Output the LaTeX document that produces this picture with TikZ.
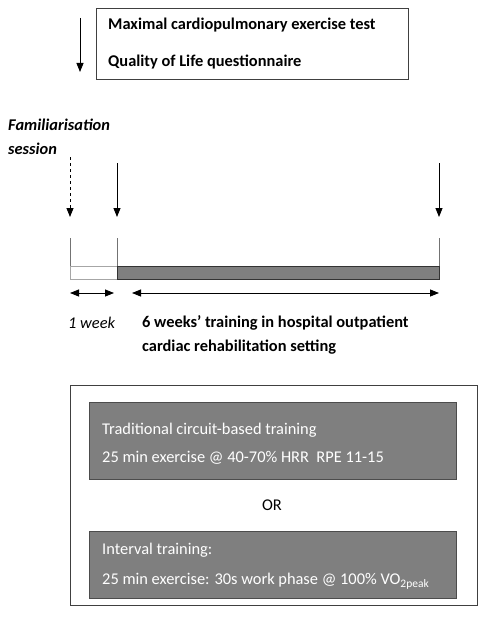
\documentclass[tikz,border=0pt]{standalone}
\usepackage{fontspec}
\setmainfont{Carlito}
\usetikzlibrary{arrows.meta,positioning}
\definecolor{barGrey}{HTML}{7F7F7F}

\begin{document}
\begin{tikzpicture}[x=1pt, y=-1pt,
    frame/.style={draw=black!75, line width=0.8pt},
    greybox/.style={draw=black!70, fill=barGrey, line width=0.8pt, anchor=north west, inner sep=0pt},
    marker/.style={-{Triangle[width=7pt,length=9pt]}, line width=0.8pt},
    span/.style={{Triangle[width=7pt,length=9pt]}-{Triangle[width=7pt,length=9pt]}, line width=0.8pt},
    tick/.style={draw=black!55, line width=0.7pt},
    label/.style={anchor=west, inner sep=0pt, font=\fontsize{16.4}{18}\selectfont}]
\useasboundingbox (0,0) rectangle (492,626);

% ASSESSMENTS
\node[frame, anchor=north west, minimum width=312, minimum height=71, inner sep=0pt] (tests) at (96,8) {};
\node[label, font=\fontsize{16.4}{18}\selectfont\bfseries] (cpet) at (108,25) {Maximal cardiopulmonary exercise test};
\node[label, font=\fontsize{16.4}{18}\selectfont\bfseries] (qol) at (108,62) {Quality of Life questionnaire};
\coordinate (testTop) at (80,18);
\coordinate (testBot) at (80,72);
\draw[marker] (testTop) -- (testBot);

% TIME POINTS
\node[label, font=\fontsize{16.4}{18}\selectfont\bfseries\itshape] (famil) at (8,125) {Familiarisation};
\node[label, font=\fontsize{16.4}{18}\selectfont\bfseries\itshape] (sess) at (8,149) {session};
\coordinate (famTop) at (70,157);
\coordinate (famBot) at (70,217);
\coordinate (preTop) at (117,163);
\coordinate (preBot) at (117,217);
\coordinate (postTop) at (439,163);
\coordinate (postBot) at (439,217);
\draw[marker, dashed] (famTop) -- (famBot);
\draw[marker] (preTop) -- (preBot);
\draw[marker] (postTop) -- (postBot);

% TIMELINE BAR
\draw[tick] (70,238) -- (70,279);
\draw[tick] (117,238) -- (117,279);
\draw[tick] (439,238) -- (439,279);
\draw[draw=black!35, line width=0.8pt, fill=white] (70,266) rectangle (117,279);
\draw[draw=black!80, line width=0.8pt, fill=barGrey] (117,266) rectangle (439,279);
\coordinate (weekA) at (70,293);
\coordinate (weekB) at (114,293);
\coordinate (trainA) at (132,293);
\coordinate (trainB) at (439,293);
\draw[span] (weekA) -- (weekB);
\draw[span] (trainA) -- (trainB);
\node[label, font=\fontsize{16.4}{18}\selectfont\itshape] (week) at (68,323) {1 week};
\node[label, font=\fontsize{16.4}{18}\selectfont\bfseries] (train1) at (142,323) {6 weeks’ training in hospital outpatient};
\node[label, font=\fontsize{16.4}{18}\selectfont\bfseries] (train2) at (142,347) {cardiac rehabilitation setting};

% TRAINING ARMS
\node[frame, anchor=north west, minimum width=407, minimum height=220, inner sep=0pt] (arms) at (70,385) {};
\node[greybox, minimum width=367, minimum height=77] (circuit) at (89,402) {};
\node[label, text=white] (circTitle) at (102,430) {Traditional circuit-based training};
\node[label, text=white] (circDose) at (102,458) {25 min exercise @ 40-70\% HRR\ \ RPE 11-15};
\node[label, anchor=center] (or) at (272,505) {OR};
\node[greybox, minimum width=367, minimum height=67] (interval) at (89,531) {};
\node[label, text=white] (intTitle) at (102,550) {Interval training:};
\node[label, text=white] (intDose) at (102,581) {25 min exercise: 30s work phase @ 100\% VO\textsubscript{2peak}};
\end{tikzpicture}
\end{document}
